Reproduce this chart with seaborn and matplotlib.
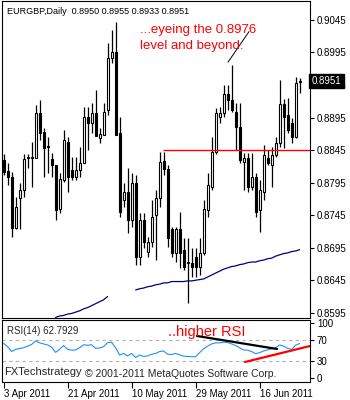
## EURGBP daily candles with MA and RSI(14), MT4 style
import numpy as np
import pandas as pd
import seaborn as sns
import matplotlib.pyplot as plt
import matplotlib.transforms as mtrans

sns.set_style("white")
plt.rcParams['font.family'] = ['Liberation Sans', 'DejaVu Sans']

# data
date_labels = ['3 Apr 2011', '21 Apr 2011', '10 May 2011', '29 May 2011', '16 Jun 2011']
date_bars = [0, 16, 32, 48, 64]

opens = [.8830, .8813, .8804, .8726, .8772, .8784, .8833, .8834, .8833, .8902,
         .8873, .8851, .8832, .8822, .8755, .8799, .8858, .8815, .8804, .8815,
         .8825, .8896, .8887, .8902, .8864, .8868, .8907, .8987, .8996, .8871,
         .8769, .8781, .8738, .8795, .8681, .8738, .8689, .8704, .8745, .8772,
         .8828, .8816, .8723, .8687, .8723, .8692, .8672, .8672, .8681, .8666,
         .8687, .8753, .8789, .8842, .8896, .8902, .8931, .8922, .8904, .8881,
         .8827, .8833, .8789, .8804, .8753, .8781, .8833, .8822, .8838, .8856,
         .8916, .8899, .8887, .8865, .8950]
highs = [.8839, .8825, .8812, .8773, .8795, .8839, .8839, .8858, .8914, .8922,
         .8879, .8865, .8841, .8822, .8810, .8876, .8865, .8835, .8835, .8850,
         .8911, .8911, .8918, .8937, .8879, .8918, .9010, .9030, .9042, .8896,
         .8795, .8818, .8810, .8807, .8749, .8749, .8712, .8769, .8784, .8842,
         .8842, .8822, .8727, .8727, .8750, .8710, .8710, .8695, .8695, .8710,
         .8769, .8810, .8865, .8910, .8911, .8945, .8945, .8976, .8918, .8918,
         .8841, .8841, .8841, .8810, .8799, .8853, .8845, .8850, .8865, .8953,
         .8924, .8925, .8894, .8957, .8955]
lows = [.8807, .8792, .8712, .8723, .8724, .8773, .8818, .8789, .8833, .8861,
        .8804, .8810, .8804, .8738, .8749, .8796, .8780, .8799, .8799, .8804,
        .8825, .8845, .8871, .8866, .8856, .8868, .8899, .8979, .8868, .8742,
        .8758, .8718, .8727, .8669, .8669, .8695, .8681, .8696, .8676, .8758,
        .8807, .8696, .8681, .8673, .8664, .8661, .8610, .8650, .8650, .8653,
        .8684, .8742, .8784, .8839, .8887, .8896, .8907, .8904, .8845, .8825,
        .8784, .8781, .8784, .8742, .8719, .8769, .8822, .8789, .8835, .8850,
        .8848, .8871, .8856, .8864, .8933]
closes = [.8812, .8804, .8726, .8758, .8784, .8832, .8834, .8833, .8902, .8871,
          .8848, .8849, .8822, .8753, .8801, .8861, .8804, .8804, .8815, .8825,
          .8896, .8887, .8902, .8866, .8870, .8904, .8987, .8996, .8868, .8750,
          .8781, .8738, .8795, .8681, .8738, .8704, .8704, .8742, .8772, .8827,
          .8816, .8710, .8687, .8723, .8687, .8666, .8673, .8666, .8666, .8687,
          .8755, .8792, .8842, .8902, .8902, .8931, .8922, .8907, .8881, .8830,
          .8833, .8789, .8804, .8750, .8784, .8838, .8825, .8838, .8856, .8916,
          .8896, .8876, .8865, .8948, .8951]

# moving average (blue line), None where it is not drawn
ma = [None, None, None, None, None, None, None, None, None, None,
      None, None, None, .8588, .8590, .8591, .8593, .8594, .8596, .8598,
      .8601, .8603, .8606, .8609, .8612, .8615, .8620, None, None, None,
      None, None, None, .8630, .8632, .8633, .8635, .8636, .8638, .8639,
      .8641, .8641, .8643, .8643, .8643, .8643, .8644, .8644, .8645, .8646,
      .8647, .8650, .8653, .8656, .8659, .8662, .8664, .8666, .8667, .8669,
      .8670, .8672, .8673, .8673, .8675, .8676, .8678, .8679, .8682, .8684,
      .8686, .8687, .8689, .8690, .8692]

rsi = [63, 57, 48, 52, 53.5, 55, 58, 61, 67.5, 64,
       62, 60, 56, 46.5, 52, 59, 52, 50.5, 51, 55,
       60.5, 59.5, 60.5, 54, 54.5, 57, 64.5, 65, 55, 41.5,
       44.5, 40, 44.5, 37, 41.5, 39, 40, 43, 44.5, 48,
       49, 43, 42.5, 44.5, 42, 39.5, 39, 38.5, 38.5, 46,
       53, 58, 62, 64, 64, 65, 64.5, 62, 59, 55,
       51, 50.5, 48, 44, 46, 49, 51, 53, 55, 60,
       58, 54, 52, 59.5, 62.8]

price_ticks = [0.8595, 0.8645, 0.8695, 0.8745, 0.8795, 0.8845, 0.8895, 0.8945, 0.8995, 0.9045]
rsi_ticks = [0, 30, 70, 100]
last_price = 0.8951
support = 0.8845

df = pd.DataFrame({'open': opens, 'high': highs, 'low': lows, 'close': closes,
                   'ma': pd.to_numeric(pd.Series(ma), errors='coerce'), 'rsi': rsi})
df['bar'] = np.arange(len(df))

fig = plt.figure(figsize=(3.5, 4), dpi=100)
ax = fig.add_axes([2/350, 82/400, 308/350, 317/400])
ax2 = fig.add_axes([2/350, 18/400, 308/350, 62/400])

# candles
ax.vlines(df['bar'], df['low'], df['high'], color='black', lw=0.9, zorder=2)
body_bottom = df[['open', 'close']].min(axis=1)
body_height = (df['close'] - df['open']).abs()
faces = np.where(df['close'] >= df['open'], 'white', 'black')
ax.bar(df['bar'], body_height, bottom=body_bottom, width=0.55, color=faces,
       edgecolor='black', linewidth=0.8, zorder=3)

# moving average, split where it has gaps
df_ma = df[['bar', 'ma']].copy()
df_ma['seg'] = df_ma['ma'].isna().cumsum()
df_ma = df_ma.dropna()
sns.lineplot(data=df_ma, x='bar', y='ma', units='seg', estimator=None,
             color='#000080', lw=0.9, ax=ax, legend=False)

ax.hlines(support, 39.85, 76.6, color='red', lw=1, zorder=4)
ax.plot([61.35, 56.1], [0.9027, 0.8980], color='black', lw=0.7)
ax.text(34.2, 0.9029, '...eyeing the 0.8976', color='red', fontsize=9.5, va='center')
ax.text(34.2, 0.9005, 'level and beyond.', color='red', fontsize=9.5, va='center')
ax.text(0.016, 0.968, 'EURGBP,Daily  0.8950 0.8955 0.8933 0.8951', transform=ax.transAxes,
        fontsize=6.5, va='center', color='black')

ax.set_xlim(-0.4, 76.6)
ax.set_ylim(0.8587, 0.9074)
ax.set_xticks([])
ax.set_yticks(price_ticks)
ax.set_yticklabels([f'{p:.4f}' for p in price_ticks])
ax.yaxis.tick_right()
ax.tick_params(axis='y', length=3, width=0.8, pad=2, labelsize=7, colors='black', right=True)
ax.set_xlabel('')
ax.set_ylabel('')

trans = mtrans.blended_transform_factory(ax.transAxes, ax.transData)
ax.text(1.006, last_price, f'{last_price:.4f}', transform=trans, color='white', fontsize=7,
        va='center', ha='left', clip_on=False, zorder=6,
        bbox=dict(boxstyle='square,pad=0.25', fc='black', ec='black'))

# RSI panel
sns.lineplot(x=df['bar'], y=df['rsi'], color='#1E90FF', lw=0.8, ax=ax2)
for lvl in [70, 30]:
    ax2.axhline(lvl, color='#B0B0B0', ls=(0, (3, 3)), lw=0.8, zorder=1)
ax2.plot([48.35, 68.35], [76.6, 52.7], color='black', lw=1.6)
ax2.plot([60.35, 76.6], [28.8, 58.2], color='red', lw=1.6)

ax2.text(0.016, 0.82, 'RSI(14) 62.7929', transform=ax2.transAxes, fontsize=7, va='center')
ax2.text(0.539, 0.80, '..higher RSI', transform=ax2.transAxes, fontsize=10.5,
         va='center', color='red')
ax2.text(0.0065, 0.16, 'FXTechstrategy', transform=ax2.transAxes, fontsize=8, va='center')
ax2.text(0.27, 0.13, '\u00a9 2001-2011 MetaQuotes Software Corp.', transform=ax2.transAxes,
         fontsize=7.5, va='center')

ax2.set_xlim(-0.4, 76.6)
ax2.set_ylim(-8, 106)
ax2.set_yticks(rsi_ticks)
ax2.set_yticklabels([str(t) for t in rsi_ticks])
ax2.yaxis.tick_right()
ax2.tick_params(axis='y', length=3, width=0.8, pad=2, labelsize=7, colors='black', right=True)
ax2.set_xticks(date_bars)
ax2.set_xticklabels(date_labels, ha='left')
ax2.tick_params(axis='x', length=4, width=0.8, pad=1, labelsize=7, colors='black', bottom=True)
ax2.set_xlabel('')
ax2.set_ylabel('')

for a in (ax, ax2):
    for sp in a.spines.values():
        sp.set_color('black')
        sp.set_linewidth(0.8)

fig.savefig('out.png', dpi=100, facecolor='white')
